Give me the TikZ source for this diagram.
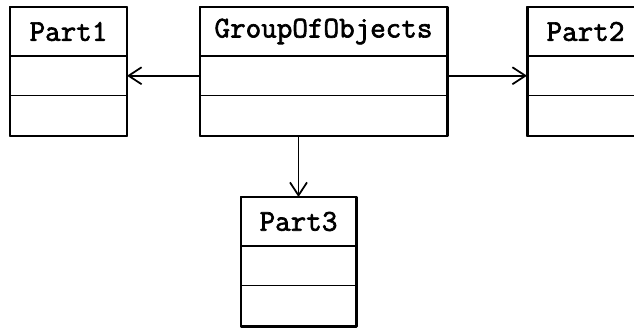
\documentclass[tikz,border=0pt]{standalone}
\usepackage{fontspec}
\setmonofont[AutoFakeBold=2.2]{Latin Modern Mono}
\usetikzlibrary{positioning,arrows.meta}
\begin{document}
\begin{tikzpicture}[>={Straight Barb[length=2.6mm,width=3.4mm]}, line join=round, line cap=round,
	font=\ttfamily\bfseries\fontsize{17.2}{20}\selectfont,
	head/.style={draw, line width=1.1pt, inner sep=0pt, outer sep=0pt, minimum width=#1, minimum height=0.98cm, anchor=north west},
	comp/.style={draw, line width=1.1pt, inner sep=0pt, outer sep=0pt, minimum width=#1, minimum height=0.81cm}]
	\useasboundingbox (0,0) rectangle (12.68,-6.58);
	% name / x / y / width / title
	\foreach \n/\x/\y/\w/\t in {p1/0.2/-0.14/2.34/Part1, g/4/-0.14/4.94/GroupOfObjects, p2/10.54/-0.14/2.34/Part2, p3/4.82/-3.94/2.3/Part3}{
		\node[head=\w cm] (\n a) at (\x,\y) {\t};
		\node[comp=\w cm, below=0pt of \n a, minimum height=0.79cm] (\n b) {};
		\node[comp=\w cm, below=0pt of \n b] (\n c) {};
		\draw[line width=1.7pt] (\n a.north west) rectangle (\n c.south east);
	}
	\draw[->, line width=1pt] (gb.west) -- (p1b.east);
	\draw[->, line width=1pt] (gb.east) -- (p2b.west);
	\draw[->, line width=1pt] (gc.south -| p3a.north) -- (p3a.north);
\end{tikzpicture}
\end{document}
